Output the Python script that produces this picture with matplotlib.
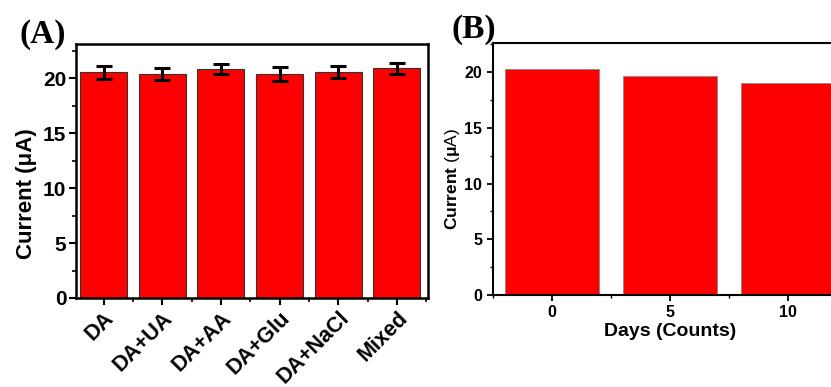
import numpy as np
import matplotlib
matplotlib.use('Agg')
import matplotlib.pyplot as plt
from matplotlib.ticker import MultipleLocator
from matplotlib.transforms import ScaledTranslation

# panel A: interference study
categories = ['DA', 'DA+UA', 'DA+AA', 'DA+Glu', 'DA+NaCl', 'Mixed']
current_a = [20.55, 20.35, 20.8, 20.4, 20.6, 20.9]
error_a = [0.6, 0.55, 0.45, 0.65, 0.55, 0.5]

# panel B: stability over days
days = [0, 5, 10]
current_b = [20.3, 19.65, 19.05]

plt.rcParams['font.family'] = ['Liberation Sans', 'DejaVu Sans']
plt.rcParams['font.weight'] = 'bold'
plt.rcParams['mathtext.fontset'] = 'custom'
plt.rcParams['mathtext.bf'] = 'Liberation Sans:bold'
plt.rcParams['mathtext.rm'] = 'Liberation Sans'

fig = plt.figure(figsize=(8.31, 3.87), dpi=100)

# ---- panel A ----
axA = fig.add_axes([0.0915, 0.23, 0.4236, 0.656])
x = np.arange(len(categories))
axA.bar(x, current_a, width=0.8, color='#ff0000', edgecolor='#333333', linewidth=0.8)
axA.errorbar(x, current_a, yerr=error_a, fmt='none', ecolor='black',
             elinewidth=2.2, capsize=6, capthick=2.2)
axA.set_xlim(-0.47, 5.53)
axA.set_ylim(0, 23.1)
axA.set_xticks(x)
axA.set_xticklabels(categories, rotation=45, ha='right', rotation_mode='anchor',
                    fontsize=15.5, fontweight='bold')
# shift rotated labels a little to the right, like the original
shift = ScaledTranslation(0.09, 0, fig.dpi_scale_trans)
for lbl in axA.get_xticklabels():
    lbl.set_transform(lbl.get_transform() + shift)
axA.set_xticks(x + 0.5, minor=True)
axA.yaxis.set_major_locator(MultipleLocator(5))
axA.yaxis.set_minor_locator(MultipleLocator(2.5))
axA.tick_params(axis='y', which='major', labelsize=15)
axA.tick_params(axis='both', which='major', direction='out', length=5, width=1.5)
axA.tick_params(axis='both', which='minor', direction='out', length=3, width=1.2)
axA.tick_params(axis='x', pad=2)
axA.tick_params(axis='y', pad=2)
axA.set_ylabel('Current (μA)', fontsize=16, fontweight='bold', labelpad=4)
axA.yaxis.label.set_y(0.41)
for s in axA.spines.values():
    s.set_linewidth(1.8)

# ---- panel B ----
axB = fig.add_axes([0.593, 0.2377, 0.426, 0.651])
axB.bar(days, current_b, width=4, color='#ff0000', edgecolor='#888888', linewidth=0.6)
axB.set_xlim(-2.5, 12.5)
axB.set_ylim(0, 22.6)
axB.set_xticks(days)
axB.xaxis.set_minor_locator(MultipleLocator(2.5))
axB.yaxis.set_major_locator(MultipleLocator(5))
axB.yaxis.set_minor_locator(MultipleLocator(2.5))
axB.tick_params(axis='both', which='major', direction='out', length=4, width=1.3,
                labelsize=11.5)
axB.tick_params(axis='both', which='minor', direction='out', length=2.5, width=1.0)
axB.set_xlabel('Days (Counts)', fontsize=14, fontweight='bold', labelpad=2)
axB.set_ylabel(r'$\mathbf{Current}$ ($\mathrm{\mu}$A)', fontsize=12.5, labelpad=2)
axB.yaxis.label.set_y(0.46)
for s in axB.spines.values():
    s.set_linewidth(1.5)

fig.text(0.024, 0.889, '(A)', fontsize=24, fontweight='bold', family='Liberation Serif')
fig.text(0.543, 0.903, '(B)', fontsize=24, fontweight='bold', family='Liberation Serif')

fig.savefig('out.png', dpi=100)
plt.close()
